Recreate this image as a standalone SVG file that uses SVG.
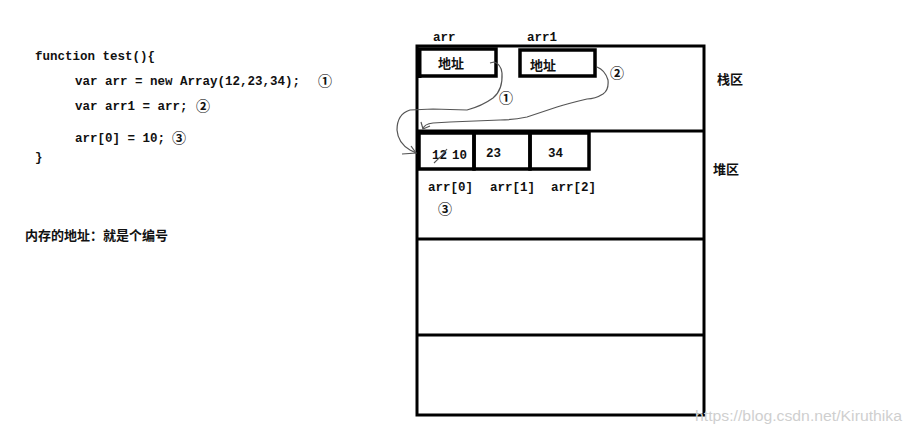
<svg xmlns="http://www.w3.org/2000/svg" width="912" height="433" viewBox="0 0 912 433">
<style>
.code{font-family:"Liberation Mono",monospace;font-size:12.5px;font-weight:bold;fill:#111}
.lbl{font-family:"Liberation Mono",monospace;font-size:12.5px;font-weight:bold;fill:#111}
.cjk{font-family:"Noto Sans CJK SC",sans-serif;font-size:13px;font-weight:bold;fill:#111}
.box{fill:none;stroke:#000;stroke-width:3.5}
.frame{fill:none;stroke:#000;stroke-width:3}
.pen{fill:none;stroke:#555;stroke-width:1.2}
.num{font-family:"Noto Sans CJK SC","DejaVu Sans",sans-serif;font-size:14px;font-weight:bold;fill:#111}
</style>
<rect width="912" height="433" fill="#fff"/>
<g id="code">
<text class="code" x="35" y="60">function test(){</text>
<text class="code" x="75" y="85">var arr = new Array(12,23,34);</text>
<text class="num" x="318" y="86">①</text>
<text class="code" x="75" y="110">var arr1 = arr;</text>
<text class="num" x="196" y="111">②</text>
<text class="code" x="75" y="142">arr[0] = 10;</text>
<text class="num" x="172" y="143">③</text>
<text class="code" x="35" y="161">}</text>
</g>
<g id="note"><text class="cjk" x="25" y="240">内存的地址：就是个编号</text></g>
<g id="memory">
<rect class="frame" x="417" y="46" width="287" height="369"/>
<line class="frame" x1="417" y1="131" x2="704" y2="131"/>
<line class="frame" x1="417" y1="239" x2="704" y2="239"/>
<line class="frame" x1="417" y1="335" x2="704" y2="335"/>
<text class="cjk" x="717" y="84">栈区</text>
<text class="cjk" x="713" y="174">堆区</text>
</g>
<g id="arr">
<text class="lbl" x="433" y="41">arr</text>
<rect class="box" x="418" y="49" width="78" height="27"/>
<line x1="419" y1="48" x2="419" y2="78" stroke="#000" stroke-width="5"/>
<text class="cjk" x="438" y="68">地址</text>
</g>
<g id="arr1">
<text class="lbl" x="527" y="41">arr1</text>
<rect class="box" x="520" y="50" width="75" height="26"/>
<text class="cjk" x="530" y="70">地址</text>
</g>
<g id="heap0">
<rect class="box" x="419" y="133" width="55" height="36"/>
<text class="lbl" x="432" y="159" font-weight="normal">12</text>
<path class="pen" d="M434,163 Q442,156 447,149"/>
<text class="lbl" x="452" y="159">10</text>
<text class="lbl" x="428" y="191" font-weight="normal">arr[0]</text>
</g>
<g id="heap1">
<rect class="box" x="474" y="133" width="56" height="36"/>
<text class="lbl" x="486" y="157" font-weight="normal">23</text>
<text class="lbl" x="490" y="191" font-weight="normal">arr[1]</text>
</g>
<g id="heap2">
<rect class="box" x="530" y="133" width="59" height="36"/>
<text class="lbl" x="548" y="157" font-weight="normal">34</text>
<text class="lbl" x="551" y="191" font-weight="normal">arr[2]</text>
</g>
<g id="step3"><text class="num" x="438" y="214">③</text></g>
<g id="connectors">
<path class="pen" d="M490,63 L494,62 Q501,64 502,73 Q503,90 493,98 Q482,106 467,110 L433,109 L410,110 Q397,114 397,130 Q398,143 410,150 L416,153"/>
<path class="pen" d="M402,154 L416,153 L411,146"/>
<text class="num" x="499" y="103">①</text>
<path class="pen" d="M597,67 Q605,70 608,80 Q609,90 603,94 Q595,99 587,99 Q570,103 557,107 L527,117 Q512,120 500,120 L450,122 L433,123 Q424,124 423,129"/>
<path class="pen" d="M421,122 L423,129 L430,126"/>
<text class="num" x="610" y="78">②</text>
</g>
<text x="695" y="421" font-family="Liberation Sans,Arial,sans-serif" font-size="14" fill="#cfcfcf" textLength="207" lengthAdjust="spacingAndGlyphs">https://blog.csdn.net/Kiruthika</text>
</svg>
